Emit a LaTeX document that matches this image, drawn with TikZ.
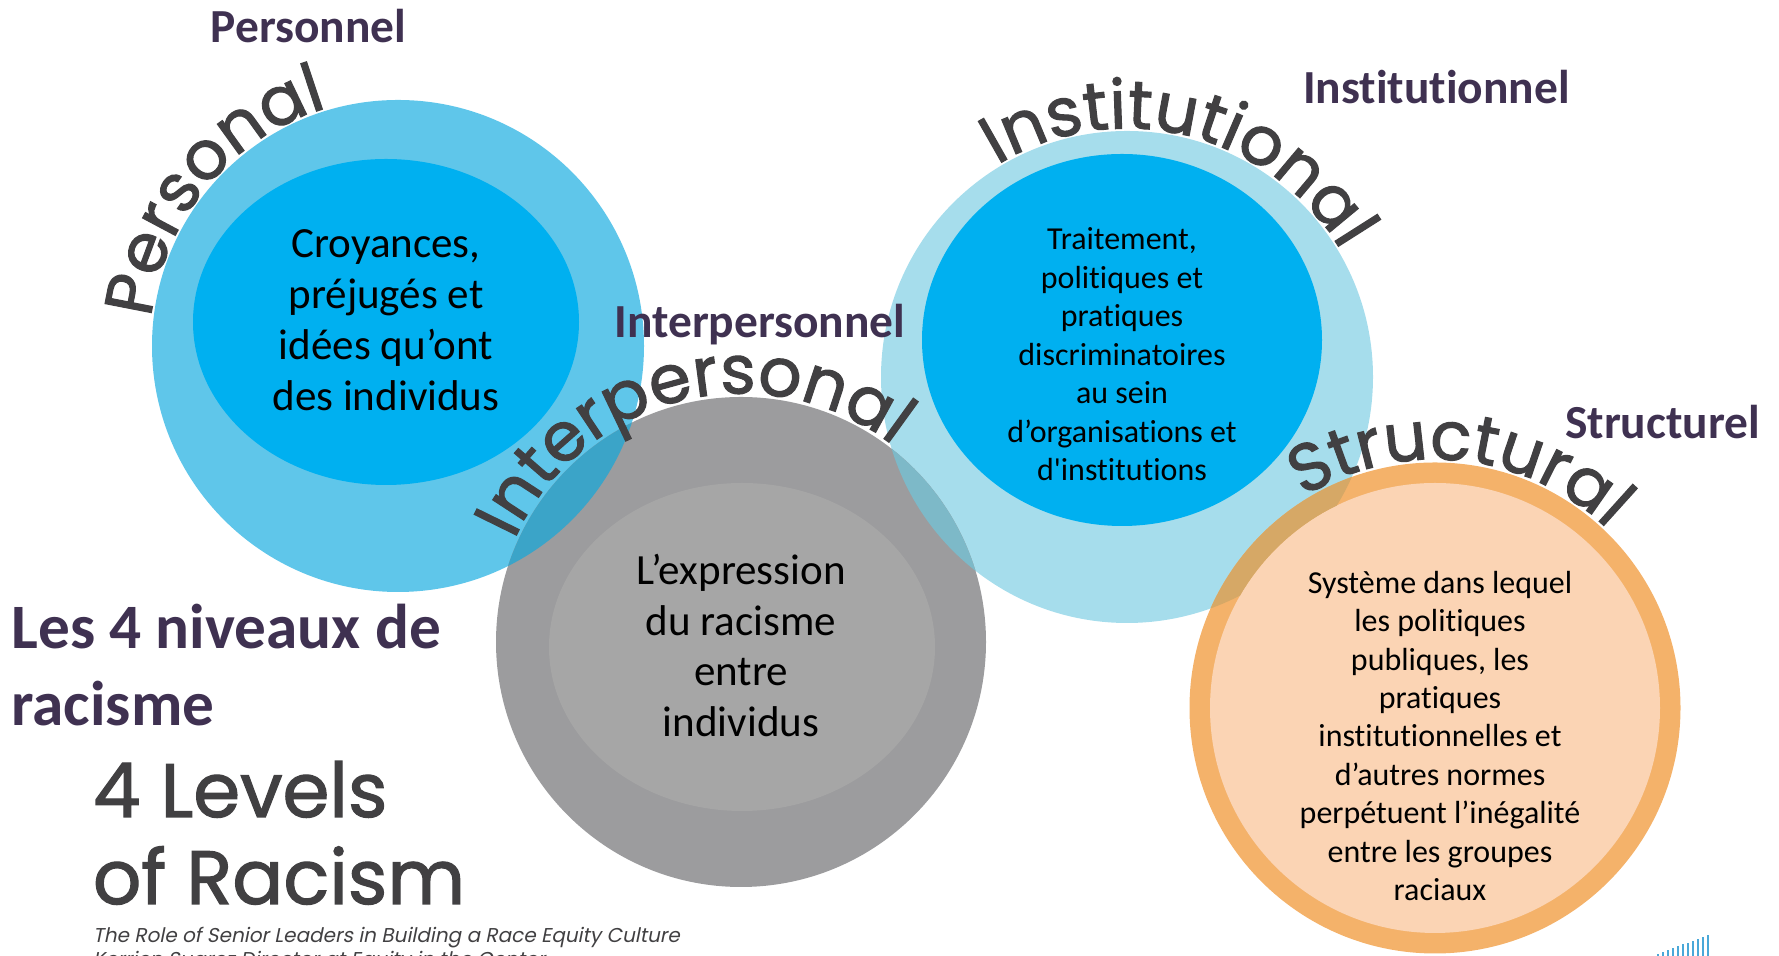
\documentclass[tikz,border=0pt]{standalone}
\usepackage{fontspec}
\setmainfont[Ligatures={TeX,NoCommon}]{Carlito}
\newfontfamily\gothamfont[FakeBold=1.6]{Poppins}
\newfontfamily\gothamslant[FakeSlant=0.2]{Poppins}
\usetikzlibrary{decorations.text}
\definecolor{personalblue}{HTML}{5FC6EA}
\definecolor{coreblue}{HTML}{00B0F0}
\definecolor{instblue}{HTML}{A6DDEC}
\definecolor{interouter}{HTML}{9C9C9E}
\definecolor{interinner}{HTML}{A6A6A6}
\definecolor{structring}{HTML}{F4B26A}
\definecolor{structfill}{HTML}{FBD4B4}
\definecolor{mixteal}{HTML}{3BA4C8}
\definecolor{mixgrey}{HTML}{7DB9C8}
\definecolor{mixtan}{HTML}{D6A866}
\definecolor{labelpurple}{HTML}{3F3151}
\definecolor{titlegray}{HTML}{414042}
\definecolor{logoblue}{HTML}{4AA8D8}
\begin{document}
\begin{tikzpicture}[inner sep=0pt,outer sep=0pt,
frenchlabel/.style={text=labelpurple,font=\bfseries\fontsize{27}{32}\selectfont},
bodytext/.style={align=center,font=\fontsize{24.5}{29}\selectfont},
smalltext/.style={align=center,font=\fontsize{18.2}{21.9}\selectfont},
arclabel/.style={decorate,decoration={text along path,text align=center,text color=titlegray,
  text={|\gothamfont\fontsize{38.5}{40}\selectfont|#1}}}]
\useasboundingbox (0,0) rectangle (35.58,19.12);
\coordinate (P) at (7.96,12.20);
\coordinate (G) at (14.82,6.28);
\coordinate (I) at (22.54,11.58);
\coordinate (S) at (28.70,4.96);

\fill[personalblue] (P) circle (4.92);
\fill[coreblue] (7.72,12.68) ellipse (3.86 and 3.26);
\fill[instblue] (I) circle (4.92);
\fill[coreblue] (22.44,12.32) ellipse (4.0 and 3.72);
\fill[interouter] (G) circle (4.9);
\fill[interinner] (14.84,6.18) ellipse (3.86 and 3.28);
\fill[structring] (S) circle (4.91);
\fill[structfill] (S) circle (4.5);

\begin{scope}
\clip (P) circle (4.92);
\fill[mixteal] (G) circle (4.9);
\end{scope}
\begin{scope}
\clip (I) circle (4.92);
\fill[mixgrey] (G) circle (4.9);
\fill[mixtan,even odd rule] (S) circle (4.91) (S) circle (4.5);
\end{scope}

\path[arclabel=Personal] (P) ++(210:4.97) arc[start angle=210,end angle=70,radius=4.97];
\path[arclabel=Interpersonal] (G) ++(174:4.97) arc[start angle=174,end angle=34,radius=4.97];
\path[arclabel=Institutional] (I) ++(146:4.97) arc[start angle=146,end angle=6,radius=4.97];
\path[arclabel=Structural] (S) ++(154:4.97) arc[start angle=154,end angle=14,radius=4.97];

\node[bodytext] (personaltext) at (7.72,12.71) {Croyances,\\préjugés et\\idées qu’ont\\des individus};
\node[bodytext] (intertext) at (14.82,6.21) {L’expression\\du racisme\\entre\\individus};
\node[smalltext] (insttext) at (22.44,12.03) {Traitement,\\politiques et\\pratiques\\discriminatoires\\au sein\\d’organisations et\\d\textquotesingle institutions};
\node[smalltext] (structtext) at (28.80,4.40) {Système dans lequel\\les politiques\\publiques, les\\pratiques\\institutionnelles et\\d’autres normes\\perpétuent l’inégalité\\entre les groupes\\raciaux};

\node[frenchlabel] (personnel) at (6.17,18.60) {Personnel};
\node[frenchlabel] (interpersonnel) at (15.20,12.63) {Interpersonnel};
\node[frenchlabel] (institutionnel) at (28.73,17.37) {Institutionnel};
\node[frenchlabel] (structurel) at (33.25,10.68) {Structurel};

\node[anchor=base west,text=labelpurple,font=\bfseries\fontsize{36}{43}\selectfont] (niveaux) at (0.23,6.14) {Les 4 niveaux de};
\node[anchor=base west,text=labelpurple,font=\bfseries\fontsize{36}{43}\selectfont] (racisme) at (0.23,4.60) {racisme};
\node[anchor=base west,text=titlegray,font=\gothamfont\fontsize{43}{50}\selectfont] (levels) at (1.86,2.78) {4 Levels};
\node[anchor=base west,text=titlegray,font=\gothamfont\fontsize{43}{50}\selectfont] (ofracism) at (1.86,1.04) {of Racism};
\node[anchor=base west,text=titlegray,font=\gothamslant\fontsize{11.4}{13}\selectfont] (role) at (1.86,0.26) {The Role of Senior Leaders in Building a Race Equity Culture};
\node[anchor=base west,text=titlegray,font=\gothamslant\fontsize{11.4}{13}\selectfont] (author) at (1.86,-0.22) {Kerrien Suarez Director at Equity in the Center};

\foreach \k in {0,...,10}
  \fill[logoblue] ({33.14+0.1*\k},0) rectangle ++(0.04,{0.04+0.038*\k});
\end{tikzpicture}
\end{document}
